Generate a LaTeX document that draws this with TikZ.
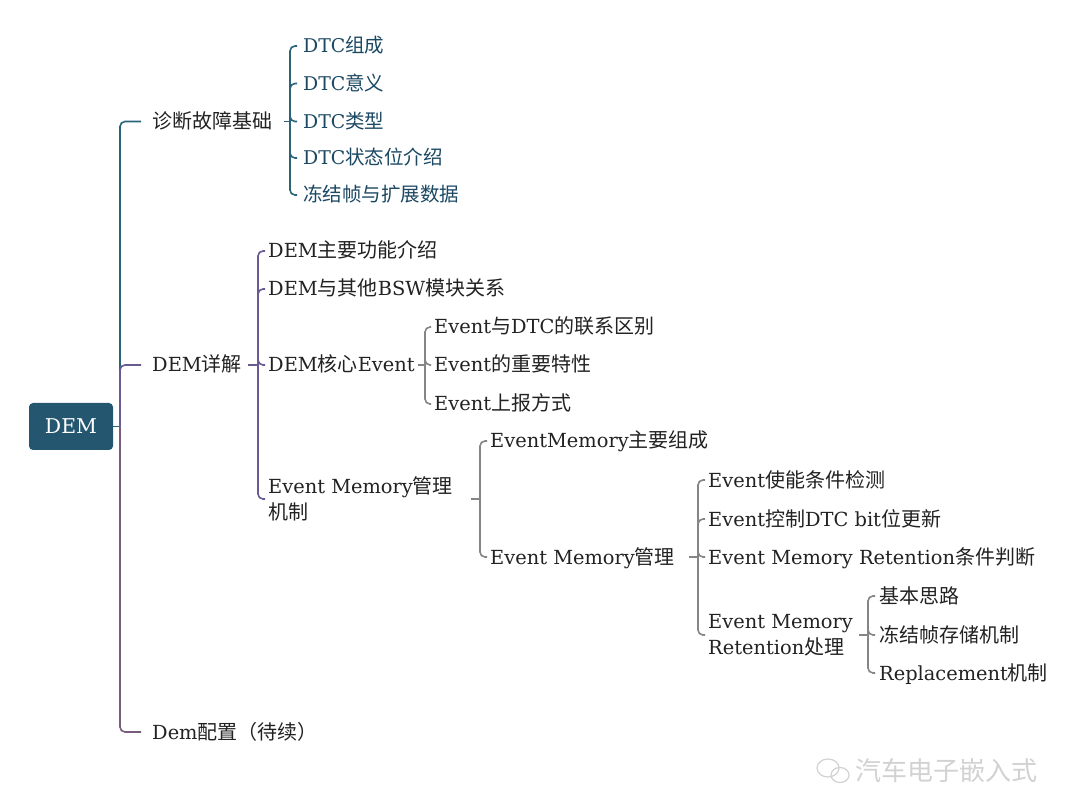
\documentclass[tikz,border=0pt]{standalone}
\usepackage{fontspec}
\setmainfont{DejaVu Serif}[Scale=0.97]
\newfontfamily\cjk{Noto Sans CJK SC}
\newcommand\C[1]{{\cjk #1}}
\definecolor{boxc}{HTML}{245670}
\definecolor{lteal}{HTML}{2A6478}
\definecolor{lpurp}{HTML}{6A5A92}
\definecolor{lgrey}{HTML}{858585}
\definecolor{lmauve}{HTML}{775C7C}
\definecolor{tblue}{HTML}{1B4863}
\definecolor{tdark}{HTML}{222222}
\definecolor{wm}{HTML}{D2D2D2}
\tikzset{
  txt/.style={anchor=west, inner sep=0pt, font=\fontsize{20}{26}\selectfont, text=tdark, text height=14pt, text depth=0pt},
  txttwo/.style={anchor=west, inner sep=0pt, font=\fontsize{20}{26}\selectfont, text=tdark, align=left},
  dtc/.style={txt, text=tblue, font=\fontsize{19.5}{26}\selectfont},
  conn/.style={line width=1.6pt, rounded corners=5pt},
  rootbox/.style={fill=boxc, text=white, rounded corners=4pt, minimum width=84pt, minimum height=47pt, inner sep=0pt, font=\fontsize{21}{24}\selectfont},
}
\begin{document}
\begin{tikzpicture}[x=1pt,y=-1pt]
\useasboundingbox (0,0) rectangle (1080,786);
\fill[white] (0,0) rectangle (1080,786);

% root
\node[rootbox] (dem) at (71,426.5) {DEM};
\coordinate (j0) at (120,426.5);
\draw[conn,lteal] (dem.east) -- (j0);

% level 1
\node[txt] (a) at (152,121.5) {\C{诊断故障基础}};
\node[txt] (b) at (152,365) {DEM\C{详解}};
\node[txt] (c) at (152,732) {Dem\C{配置（待续）}};
\draw[conn,lteal] (j0) |- ([xshift=-11pt]a.west);
\draw[conn,lpurp] (j0) |- ([xshift=-11pt]b.west);
\draw[conn,lmauve] (j0) |- ([xshift=-11pt]c.west);

% 诊断故障基础 children
\node[dtc] (a1) at (303,46) {DTC\C{组成}};
\node[dtc] (a2) at (303,83.5) {DTC\C{意义}};
\node[dtc] (a3) at (303,121.5) {DTC\C{类型}};
\node[dtc] (a4) at (303,158) {DTC\C{状态位介绍}};
\node[dtc] (a5) at (303,195) {\C{冻结帧与扩展数据}};
\coordinate (ja) at (290,121.5);
\coordinate (jas) at (284,121.5);
\draw[conn,lteal] (jas) -- (ja);
\foreach \n in {a1,a2,a3,a4,a5} \draw[conn,lteal] (ja) |- ([xshift=-6pt]\n.west);

% DEM详解 children
\node[txt] (b1) at (268,251) {DEM\C{主要功能介绍}};
\node[txt] (b2) at (268,289) {DEM\C{与其他}BSW\C{模块关系}};
\node[txt] (b3) at (268,365) {DEM\C{核心}Event};
\node[txttwo] (b4) at (268,499) {Event Memory\C{管理}\\\C{机制}};
\coordinate (jb) at (258,365);
\coordinate (jbs) at (248,365);
\draw[conn,lpurp] (jbs) -- (jb);
\foreach \n in {b1,b2,b3,b4} \draw[conn,lpurp] (jb) |- ([xshift=-3pt]\n.west);

% DEM核心Event children
\node[txt] (c1) at (434,327) {Event\C{与}DTC\C{的联系区别}};
\node[txt] (c2) at (434,365) {Event\C{的重要特性}};
\node[txt] (c3) at (434,404) {Event\C{上报方式}};
\coordinate (jc) at (425,365);
\coordinate (jcs) at (418,365);
\draw[conn,lgrey] (jcs) -- (jc);
\foreach \n in {c1,c2,c3} \draw[conn,lgrey] (jc) |- ([xshift=-3pt]\n.west);

% Event Memory管理机制 children
\node[txt] (d1) at (490,441) {EventMemory\C{主要组成}};
\node[txt] (d2) at (490,557) {Event Memory\C{管理}};
\coordinate (jd) at (480,499);
\coordinate (jds) at (471,499);
\draw[conn,lgrey] (jds) -- (jd);
\foreach \n in {d1,d2} \draw[conn,lgrey] (jd) |- ([xshift=-3pt]\n.west);

% Event Memory管理 children
\node[txt] (e1) at (708,480) {Event\C{使能条件检测}};
\node[txt] (e2) at (708,519) {Event\C{控制}DTC bit\C{位更新}};
\node[txt] (e3) at (708,557) {Event Memory Retention\C{条件判断}};
\node[txttwo] (e4) at (708,635) {Event Memory\\Retention\C{处理}};
\coordinate (je) at (698,557);
\coordinate (jes) at (689,557);
\draw[conn,lgrey] (jes) -- (je);
\foreach \n in {e1,e2,e3,e4} \draw[conn,lgrey] (je) |- ([xshift=-3pt]\n.west);

% Retention处理 children
\node[txt] (f1) at (879,596) {\C{基本思路}};
\node[txt] (f2) at (879,635) {\C{冻结帧存储机制}};
\node[txt] (f3) at (879,673) {Replacement\C{机制}};
\coordinate (jf) at (868,635);
\coordinate (jfs) at (859,635);
\draw[conn,lgrey] (jfs) -- (jf);
\foreach \n in {f1,f2,f3} \draw[conn,lgrey] (jf) |- ([xshift=-4pt]\n.west);

% watermark
\draw[wm, line width=1.2pt] (828,768) ellipse (11pt and 9pt);
\draw[wm, line width=1.2pt] (840,775) ellipse (9pt and 7.5pt);
\node[anchor=west, inner sep=0pt, text=wm, font=\cjk\fontsize{26}{30}\selectfont] (wmt) at (855,771) {汽车电子嵌入式};
\end{tikzpicture}
\end{document}
